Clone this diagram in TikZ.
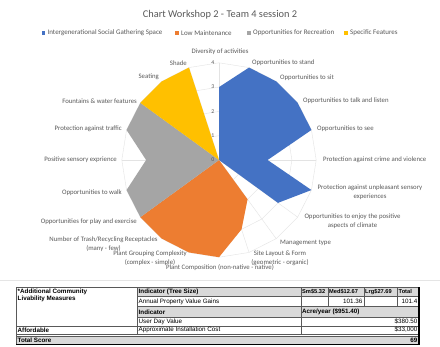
\documentclass[tikz,border=0pt]{standalone}
\usepackage{fontspec}
\setmainfont{Carlito}
\newfontfamily\tabfont{Liberation Sans}
\usepackage{tikz}
\usetikzlibrary{positioning}
\definecolor{isgs}{HTML}{4472C4}
\definecolor{lowm}{HTML}{ED7D31}
\definecolor{recr}{HTML}{A5A5A5}
\definecolor{spec}{HTML}{FFC000}
\definecolor{txtgray}{HTML}{595959}
\definecolor{cellgray}{HTML}{D9D9D9}
\tikzset{
	every node/.style={
		align=center,
	},
}
\tikzstyle{lbl} = [inner sep=0pt, text=txtgray, font=\fontsize{6.8}{8.6}\selectfont]
\tikzstyle{leg} = [inner sep=0pt, text=txtgray, font=\fontsize{7}{8}\selectfont]
\tikzstyle{legsq} = [inner sep=0pt, minimum size=3.5pt]
\tikzstyle{ticklbl} = [inner sep=0pt, text=txtgray, font=\fontsize{5.8}{6}\selectfont, anchor=east]
\tikzstyle{gridline} = [gray!22, line width=0.4pt]
\tikzstyle{tabline} = [gray!70!black, line width=0.4pt]
\tikzstyle{cell} = [inner sep=0pt, font=\tabfont\fontsize{6.3}{7.6}\selectfont]
\tikzstyle{cellb} = [inner sep=0pt, font=\tabfont\bfseries\fontsize{6.3}{7.6}\selectfont]
\tikzstyle{cellh} = [inner sep=0pt, font=\tabfont\bfseries\fontsize{5.7}{7}\selectfont]

\begin{document}
\begin{tikzpicture}[x=1bp, y=-1bp]
    \fill [white] (0,0) rectangle (440,346);
    \useasboundingbox (0,0) rectangle (440,346);

    \node (ti) [text=txtgray, font=\fontsize{10.4}{12}\selectfont] at (220,15) {Chart Workshop 2 - Team 4 session 2};

    \node (sq1) [legsq, fill=isgs] at (43.5,33) {};
    \node (lg1) [leg, right=2pt of sq1] {Intergenerational Social Gathering Space};
    \node (sq2) [legsq, fill=lowm] at (177,33) {};
    \node (lg2) [leg, right=2pt of sq2] {Low Maintenance};
    \node (sq3) [legsq, fill=recr] at (249,33) {};
    \node (lg3) [leg, right=2pt of sq3] {Opportunities for Recreation};
    \node (sq4) [legsq, fill=spec] at (346,33) {};
    \node (lg4) [leg, right=2pt of sq4] {Specific Features};

    \begin{scope}[shift={(219,160)}]
        \foreach \r in {24.3,48.6,72.9,97.2}
            \draw [gridline] (-90:\r) \foreach \a in {-72,-54,...,252} { -- (\a:\r) } -- cycle;
        \foreach \a in {-90,-72,...,252}
            \draw [gridline] (0,0) -- (\a:97.2);

        \fill [isgs] (0,0) -- (-90:72.9) -- (-72:97.2) -- (-54:97.2) -- (-36:97.2) -- (-18:97.2)
            -- (0:48.6) -- (18:97.2) -- (36:72.9) -- cycle;
        \fill [lowm] (0,0) -- (54:48.6) -- (72:72.9) -- (90:97.2) -- (108:97.2) -- (126:97.2)
            -- (144:97.2) -- cycle;
        \fill [recr] (0,0) -- (144:97.2) -- (162:97.2) -- (180:72.9) -- (198:97.2) -- (216:97.2) -- cycle;
        \fill [spec] (0,0) -- (216:97.2) -- (234:97.2) -- (252:97.2) -- cycle;
    \end{scope}

    \node (v0) [ticklbl] at (214.5,160) {0};
    \node (v1) [ticklbl] at (214.5,135.7) {1};
    \node (v2) [ticklbl] at (214.5,111.4) {2};
    \node (v3) [ticklbl] at (214.5,87.1) {3};
    \node (v4) [ticklbl] at (214.5,62.8) {4};

    \node (da) [lbl] at (220,52) {Diversity of activities};
    \node (os) [lbl, anchor=west] at (252,63) {Opportunities to stand};
    \node (oi) [lbl, anchor=west] at (280,78) {Opportunities to sit};
    \node (ot) [lbl, anchor=west] at (303,101) {Opportunities to talk and listen};
    \node (oe) [lbl, anchor=west] at (317,129) {Opportunities to see};
    \node (pc) [lbl, anchor=west] at (323,160) {Protection against crime and violence};
    \node (pu) [lbl] at (370,192) {Protection against unpleasant sensory\\experiences};
    \node (oc) [lbl] at (352.5,221) {Opportunities to enjoy the positive\\aspects of climate};
    \node (mt) [lbl, anchor=west] at (280,243) {Management type};
    \node (sl) [lbl] at (280,258.5) {Site Layout \& Form\\(geometric - organic)};
    \node (pm) [lbl] at (220,268) {Plant Composition (non-native - native)};
    \node (pg) [lbl] at (150,258) {Plant Grouping Complexity\\(complex - simple)};
    \node (nt) [lbl] at (103.5,244) {Number of Trash/Recycling Receptacles\\(many - few)};
    \node (op) [lbl, anchor=east] at (137,222) {Opportunities for play and exercise};
    \node (ow) [lbl, anchor=east] at (122,193) {Opportunities to walk};
    \node (ps) [lbl, anchor=east] at (117,160) {Positive sensory exprience};
    \node (pt) [lbl, anchor=east] at (122,129) {Protection against traffic};
    \node (fw) [lbl, anchor=east] at (137,101) {Fountains \& water features};
    \node (se) [lbl, anchor=east] at (159,77) {Seating};
    \node (sh) [lbl, anchor=east] at (187,63) {Shade};

    \draw [gray!20] (0,280) -- (440,280);

    \fill [cellgray] (137,287) rectangle (419,296.5);
    \fill [cellgray] (137,306.5) rectangle (419,317);
    \fill [cellgray] (16,336) rectangle (419,344.5);
    \draw [tabline] (16,287) -- (419,287);
    \draw [tabline] (16,287) -- (16,344.5);
    \draw [tabline] (137,296.5) -- (419,296.5);
    \draw [tabline] (137,306.5) -- (419,306.5);
    \draw [tabline] (137,317) -- (419,317);
    \draw [tabline] (16,326) -- (419,326);
    \draw [tabline] (137,287) -- (137,334);
    \draw [tabline] (301,287) -- (301,334);
    \draw [tabline] (328,287) -- (328,306.5);
    \draw [tabline] (364,287) -- (364,306.5);
    \draw [tabline] (397,287) -- (397,306.5);
    \draw [tabline, line width=0.7pt] (16,334) -- (419,334);
    \draw [tabline, line width=0.7pt] (16,336) -- (419,336);
    \draw [line width=1.3pt] (419,287) -- (419,344.5) -- (16,344.5);

    \node (ac) [cellb, anchor=north west, align=left] at (17.5,288.5) {*Additional Community\\Livability Measures};
    \node (it) [cellb, anchor=west] at (138.5,291.75) {Indicator (Tree Size)};
    \node (sm) [cellh, anchor=west] at (302,291.75) {Sm\$5.32};
    \node (md) [cellh, anchor=west] at (329,291.75) {Med\$12.67};
    \node (lr) [cellh, anchor=west] at (365,291.75) {Lrg\$27.69};
    \node (tt) [cellh, anchor=west] at (398.5,291.75) {Total};
    \node (ap) [cell, anchor=west] at (138.5,301.5) {Annual Property Value Gains};
    \node (mv) [cell, anchor=east] at (362.5,301.5) {101.36};
    \node (tv) [cell, anchor=east] at (417.5,301.5) {101.4};
    \node (in) [cellb, anchor=west] at (138.5,311.75) {Indicator};
    \node (ay) [cellb, anchor=west] at (302,311.75) {Acre/year (\$951.40)};
    \node (ud) [cell, anchor=west] at (138.5,321.5) {User Day Value};
    \node (uv) [cell, anchor=east] at (417.5,321.5) {\$380.50};
    \node (af) [cellb, anchor=west] at (17.5,330) {Affordable};
    \node (ic) [cell, anchor=west] at (138.5,330) {Approximate Installation Cost};
    \node (iv) [cell, anchor=east] at (417.5,330) {\$33,000};
    \node (ts) [cellb, anchor=west] at (17.5,340.25) {Total Score};
    \node (sv) [cellb, anchor=east] at (417.5,340.25) {69};
\end{tikzpicture}
\end{document}
